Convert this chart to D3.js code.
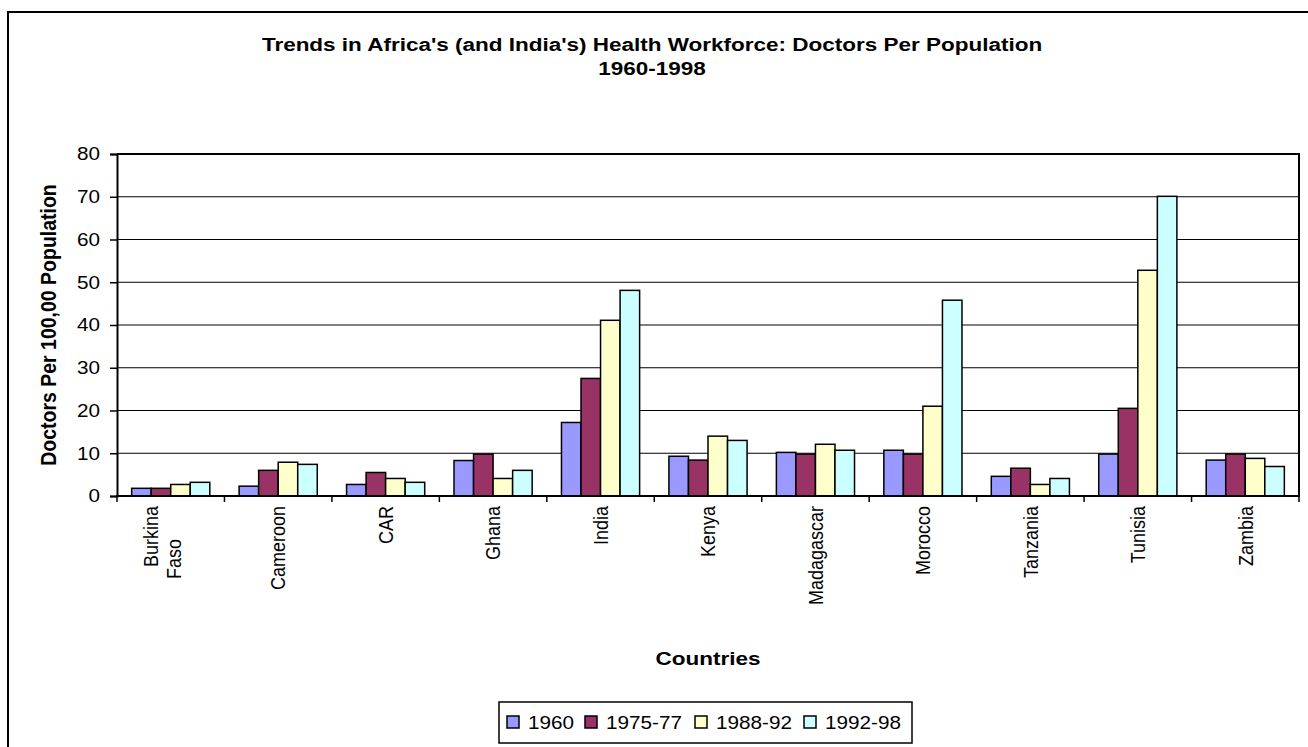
<!DOCTYPE html>
<html>
<head>
<meta charset="utf-8">
<script src="https://cdn.jsdelivr.net/npm/d3@7"></script>
<style>
  body { margin: 0; background: #fff; }
  text { font-family: Arial, "Liberation Sans", sans-serif; fill: #000; }
</style>
</head>
<body>
<script>
// categories and series
var countries = ["Burkina Faso", "Cameroon", "CAR", "Ghana", "India", "Kenya",
  "Madagascar", "Morocco", "Tanzania", "Tunisia", "Zambia"];
var seriesNames = ["1960", "1975-77", "1988-92", "1992-98"];
var colors = ["#9999FF", "#993366", "#FFFFCC", "#CCFFFF"];
var v1960 = [1.8, 2.3, 2.7, 8.3, 17.2, 9.3, 10.2, 10.7, 4.6, 9.8, 8.4];
var v1975 = [1.8, 6.0, 5.5, 9.8, 27.5, 8.4, 9.8, 9.8, 6.5, 20.5, 9.8];
var v1988 = [2.7, 7.9, 4.1, 4.1, 41.1, 14.0, 12.1, 21.0, 2.7, 52.8, 8.8];
var v1992 = [3.2, 7.4, 3.2, 6.0, 48.1, 13.0, 10.7, 45.8, 4.1, 70.1, 6.9];
var yTicks = [0, 10, 20, 30, 40, 50, 60, 70, 80];

var series = [v1960, v1975, v1988, v1992];

var width = 1308, height = 747;
var svg = d3.select("body").append("svg")
  .attr("width", width)
  .attr("height", height);

// the original picture is stretched sideways, so text is widened a bit
var stretchBold = 1.25, stretchReg = 1.15;

// outer chart border (right and bottom run off the page)
svg.append("rect")
  .attr("x", 8).attr("y", 12)
  .attr("width", 1320).attr("height", 760)
  .attr("fill", "none").attr("stroke", "#000").attr("stroke-width", 2);

var pLeft = 117, pRight = 1299, pTop = 154, pBottom = 496;

var x = d3.scaleBand().domain(countries).range([pLeft, pRight]);
// Excel gap width 150%: group = 4 bars, gap = 1.5 bars
var barW = x.bandwidth() / 5.5;
var y = d3.scaleLinear().domain([0, 80]).range([pBottom, pTop]);

// horizontal text helper
function hText(px, py, sh) {
  return svg.append("text")
    .attr("transform", "translate(" + px + "," + py + ") scale(" + sh + ",1)");
}
// title
hText(652, 51, stretchBold)
  .attr("text-anchor", "middle").style("font-size", "18px").style("font-weight", "bold")
  .text("Trends in Africa's (and India's) Health Workforce: Doctors Per Population");
hText(652, 75, stretchBold)
  .attr("text-anchor", "middle").style("font-size", "18px").style("font-weight", "bold")
  .text("1960-1998");

// gridlines
svg.append("g").selectAll("line")
  .data(yTicks.filter(function(d){ return d > 0 && d < 80; }))
  .enter().append("line")
  .attr("x1", pLeft).attr("x2", pRight)
  .attr("y1", function(d){ return y(d); }).attr("y2", function(d){ return y(d); })
  .attr("stroke", "#000").attr("stroke-width", 1);

// plot frame top + right
svg.append("path")
  .attr("d", "M" + pLeft + "," + pTop + "H" + pRight + "V" + pBottom)
  .attr("fill", "none").attr("stroke", "#000").attr("stroke-width", 2);

// bars
var groups = svg.append("g").selectAll("g")
  .data(seriesNames)
  .enter().append("g")
  .attr("fill", function(d, i){ return colors[i]; });

groups.selectAll("rect")
  .data(function(d, i){ return series[i].map(function(v, j){ return {c: countries[j], v: v, s: i}; }); })
  .enter().append("rect")
  .attr("x", function(d){ return x(d.c) + barW * 0.75 + d.s * barW; })
  .attr("y", function(d){ return y(d.v); })
  .attr("width", barW)
  .attr("height", function(d){ return pBottom - y(d.v); })
  .attr("stroke", "#000").attr("stroke-width", 1.5);

// y axis
var yAxis = svg.append("g")
  .attr("transform", "translate(" + pLeft + ",0)")
  .call(d3.axisLeft(y).tickValues(yTicks).tickSize(7).tickPadding(10));
yAxis.select(".domain").attr("stroke-width", 2);
yAxis.selectAll(".tick line").attr("stroke-width", 1.5);
yAxis.selectAll("text")
  .style("font-size", "18px").style("font-family", "Arial, 'Liberation Sans', sans-serif")
  .attr("transform", function(){
    var tx = +d3.select(this).attr("x");
    return "translate(" + tx + ",0) scale(" + stretchReg + ",1)";
  })
  .attr("x", 0);

// x axis line + ticks at category boundaries
svg.append("line")
  .attr("x1", pLeft - 1).attr("x2", pRight + 1)
  .attr("y1", pBottom).attr("y2", pBottom)
  .attr("stroke", "#000").attr("stroke-width", 2);
var bounds = countries.map(function(c){ return x(c); }).concat([pRight]);
svg.append("g").selectAll("line")
  .data(bounds).enter().append("line")
  .attr("x1", function(d){ return d; }).attr("x2", function(d){ return d; })
  .attr("y1", pBottom).attr("y2", pBottom + 6)
  .attr("stroke", "#000").attr("stroke-width", 1.5);

// rotated category labels
var labels = svg.append("g").selectAll("text")
  .data(countries).enter().append("text")
  .attr("transform", function(d){
    return "translate(" + (x(d) + x.bandwidth() / 2) + "," + (pBottom + 10) + ") scale(" + stretchReg + ",1) rotate(-90)";
  })
  .attr("text-anchor", "end")
  .style("font-size", "18px");
labels.each(function(d){
  var t = d3.select(this);
  if (d === "Burkina Faso") {
    t.append("tspan").attr("x", 0).attr("dy", "-0.6em").text("Burkina");
    t.append("tspan").attr("x", -33).attr("dy", "1.1em").text("Faso");
  } else {
    t.append("tspan").attr("x", 0).attr("dy", "0.35em").text(d);
  }
});

// axis titles
svg.append("text")
  .attr("transform", "translate(56," + ((pTop + pBottom) / 2) + ") scale(" + 1.15 + ",1) rotate(-90)")
  .attr("text-anchor", "middle").style("font-size", "19.5px").style("font-weight", "bold")
  .text("Doctors Per 100,00 Population");
hText((pLeft + pRight) / 2, 665, stretchBold)
  .attr("text-anchor", "middle").style("font-size", "18px").style("font-weight", "bold")
  .text("Countries");

// legend
var legend = svg.append("g");
legend.append("rect")
  .attr("x", 499).attr("y", 702).attr("width", 413).attr("height", 41)
  .attr("fill", "#fff").attr("stroke", "#000").attr("stroke-width", 1.5);
var legX = [507, 585, 695, 804];
seriesNames.forEach(function(s, i){
  legend.append("rect")
    .attr("x", legX[i]).attr("y", 716).attr("width", 12).attr("height", 12)
    .attr("fill", colors[i]).attr("stroke", "#000").attr("stroke-width", 1.5);
  legend.append("text")
    .attr("transform", "translate(" + (legX[i] + 21) + ",729) scale(" + stretchReg + ",1)")
    .style("font-size", "18px").text(s);
});
</script>
</body>
</html>
